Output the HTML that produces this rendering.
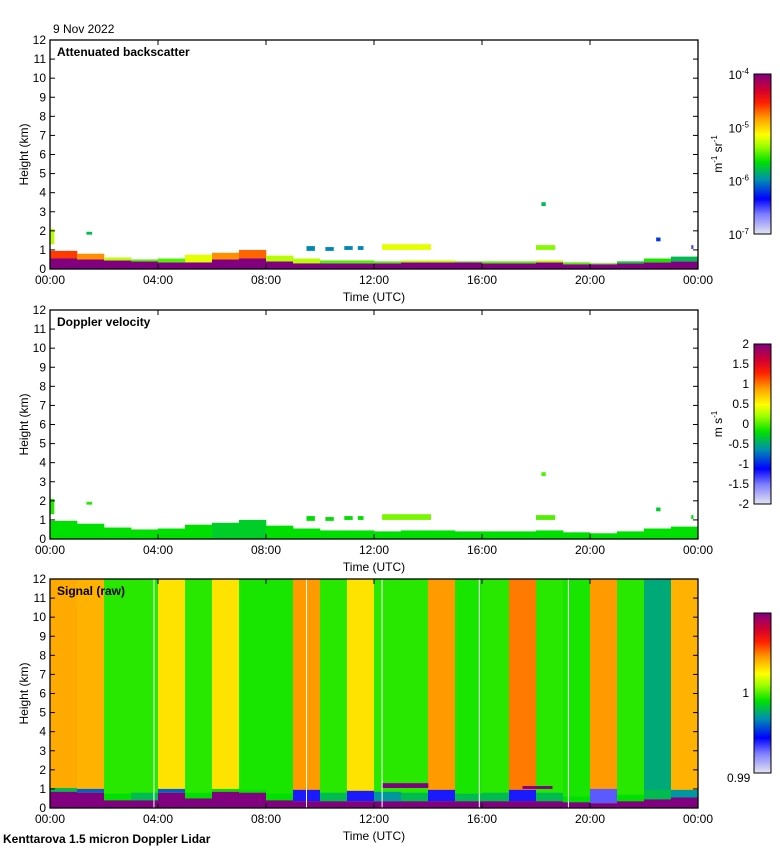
<!DOCTYPE html>
<html><head><meta charset="utf-8">
<style>
html,body{margin:0;padding:0;background:#fff;}
svg{display:block;font-family:"Liberation Sans",sans-serif;}
</style></head>
<body>
<svg id="fig" width="780" height="850" viewBox="0 0 780 850">
<defs>
<linearGradient id="cmapV" x1="0" y1="1" x2="0" y2="0">
<stop offset="0" stop-color="#e4e4f0"/><stop offset="0.12" stop-color="#8080ff"/><stop offset="0.22" stop-color="#0000ff"/><stop offset="0.34" stop-color="#0090b0"/><stop offset="0.45" stop-color="#00e000"/><stop offset="0.55" stop-color="#a0ff00"/><stop offset="0.62" stop-color="#ffff00"/><stop offset="0.72" stop-color="#ffa000"/><stop offset="0.82" stop-color="#ff2000"/><stop offset="0.9" stop-color="#d00030"/><stop offset="1" stop-color="#800080"/>
</linearGradient>
</defs>
<text x="53" y="33" font-size="12">9 Nov 2022</text>
<text x="3" y="843" font-size="12" font-weight="bold">Kenttarova 1.5 micron Doppler Lidar</text>
<g id="layers"></g>
</svg>
<script>
// ---- data ----
const hours = [0,1,2,3,4,5,6,7,8,9,10,11,12,13,14,15,16,17,18,19,20,21,22,23];
const bsPurpleTop = [0.55,0.5,0.45,0.4,0.35,0.35,0.5,0.55,0.4,0.3,0.3,0.3,0.3,0.35,0.35,0.35,0.3,0.3,0.35,0.25,0.25,0.3,0.35,0.4];
const bsLayerTop = [0.95,0.8,0.6,0.5,0.55,0.75,0.85,1.0,0.7,0.55,0.45,0.45,0.4,0.45,0.45,0.4,0.4,0.4,0.45,0.35,0.3,0.4,0.55,0.65];
const bsFringeLog = [-4.6,-4.8,-5.3,-5.5,-5.5,-5.2,-4.8,-4.7,-5.3,-5.3,-5.5,-5.5,-5.5,-5.3,-5.3,-5.5,-5.5,-5.5,-5.3,-5.5,-5.5,-5.7,-5.6,-5.8];
const cloudStart = [0.0,1.35,9.5,10.2,10.9,11.4,12.3,18.0,18.2,22.45,23.75];
const cloudEnd   = [0.15,1.55,9.8,10.5,11.2,11.6,14.1,18.7,18.35,22.6,23.82];
const cloudBase  = [1.3,1.8,0.95,0.95,1.0,1.0,1.0,1.0,3.3,1.45,1.05];
const cloudTop   = [2.1,1.95,1.2,1.15,1.2,1.2,1.3,1.25,3.5,1.65,1.25];
const cloudLog   = [-5.3,-5.8,-6.0,-6.0,-6.0,-6.0,-5.2,-5.4,-5.8,-6.2,-6.5];
const velLayer = [-0.2,-0.2,-0.2,-0.2,-0.2,-0.2,-0.3,-0.3,-0.2,-0.2,-0.2,-0.2,-0.2,-0.2,-0.2,-0.2,-0.2,-0.2,-0.2,-0.2,-0.2,-0.2,-0.2,-0.2];
const cloudVel = [-0.1,-0.1,-0.2,-0.2,-0.2,-0.2,0.1,0.0,0.0,-0.3,-0.2];
const signalHour = [1.0042,1.0040,0.9995,0.9995,1.003,0.9995,1.003,0.9993,0.9993,1.0045,0.9995,1.003,0.9995,0.9995,1.0045,0.9993,0.9995,1.005,0.9995,0.9993,1.0045,0.9995,0.9975,1.004];
const sigPurpleTop = [0.85,0.8,0.4,0.4,0.8,0.5,0.85,0.8,0.4,0.35,0.35,0.35,0.35,0.35,0.35,0.35,0.35,0.35,0.35,0.3,0.25,0.35,0.45,0.55];
const sigLowTop = [1.05,1.0,0.75,0.8,1.0,0.8,1.0,0.95,0.75,0.95,0.8,0.9,0.85,0.8,0.95,0.75,0.8,0.95,0.8,0.6,1.0,0.7,0.95,0.95];
const sigLowVal = [0.998,0.996,0.999,0.998,0.996,0.999,0.999,0.999,0.999,0.994,0.998,0.994,0.997,0.998,0.994,0.998,0.998,0.994,0.998,0.999,0.993,0.999,0.998,0.997];
const sigCloudStart = [12.3,17.5];
const sigCloudEnd = [14.0,18.6];
const sigCloudBase = [1.05,1.0];
const sigCloudTop = [1.3,1.15];
const gapHours = [3.85,9.5,12.3,15.9,19.2];
const yTicks = [0,1,2,3,4,5,6,7,8,9,10,11,12];
const xTickHours = [0,4,8,12,16,20,24];
const xTickLabels = ["00:00","04:00","08:00","12:00","16:00","20:00","00:00"];
const bsCbLabels = ["-4","-5","-6","-7"];
const velCbValues = [2,1.5,1,0.5,0,-0.5,-1,-1.5,-2];
const velCbLabels = ["2","1.5","1","0.5","0","-0.5","-1","-1.5","-2"];
const sigCbValues = [1,0.99];
const sigCbLabels = ["1","0.99"];

// ---- helpers ----
const NS="http://www.w3.org/2000/svg";
const root=document.getElementById('layers');
const X0=50, X1=698, PH=229;
const xs=h=>X0+h*(X1-X0)/24;
function mk(tag,attrs,parent){const e=document.createElementNS(NS,tag);for(const k in attrs)e.setAttribute(k,attrs[k]);(parent||root).appendChild(e);return e;}
const stops=[[0,[228,228,240]],[0.12,[128,128,255]],[0.22,[0,0,255]],[0.34,[0,144,176]],[0.45,[0,224,0]],[0.55,[160,255,0]],[0.62,[255,255,0]],[0.72,[255,160,0]],[0.82,[255,32,0]],[0.9,[208,0,48]],[1,[128,0,128]]];
function cmap(t){t=Math.max(0,Math.min(1,t));for(let i=1;i<stops.length;i++){if(t<=stops[i][0]){const a=stops[i-1],b=stops[i];const f=(t-a[0])/(b[0]-a[0]);const c=a[1].map((v,j)=>Math.round(v+(b[1][j]-v)*f));return `rgb(${c[0]},${c[1]},${c[2]})`;}}return 'rgb(128,0,128)';}
const bsT=l=>(l+7)/3, velT=v=>(v+2)/4, sigT=s=>(s-0.99)/0.02;

function panel(top,title,name){
  const g=mk('g',{});  
  const ys=k=>top+PH-k*PH/12;
  const plot=mk('g',{},g);
  
  
  return {g,ys,plot,top,title};
}
function axes(p,name){
  const {g,ys,top}=p;
  const fr=mk('rect',{x:X0,y:top,width:X1-X0,height:PH,fill:'none',stroke:'#000','stroke-width':1.3},g);
  
  yTicks.forEach(k=>{
    const y=ys(k);
    mk('line',{x1:X0,x2:X0+5,y1:y,y2:y,stroke:'#000'},g);
    mk('line',{x1:X1-5,x2:X1,y1:y,y2:y,stroke:'#000'},g);
    const t=mk('text',{x:X0-4,y:y+4,'font-size':12,'text-anchor':'end'},g);t.textContent=k;
    
  });
  xTickHours.forEach((h,i)=>{
    const x=xs(h);
    mk('line',{x1:x,x2:x,y1:top+PH,y2:top+PH-5,stroke:'#000'},g);
    mk('line',{x1:x,x2:x,y1:top,y2:top+5,stroke:'#000'},g);
    const t=mk('text',{x:x,y:top+PH+15,'font-size':12,'text-anchor':'middle'},g);t.textContent=xTickLabels[i];
    
  });
  const xt=mk('text',{x:374,y:top+PH+32,'font-size':12,'text-anchor':'middle'},g);xt.textContent='Time (UTC)';
  
  const yt=mk('text',{x:0,y:0,'font-size':12,'text-anchor':'middle',transform:`translate(28,${top+PH/2}) rotate(-90)`},g);yt.textContent='Height (km)';
  
  const tt=mk('text',{x:57,y:top+16,'font-size':12,'font-weight':'bold'},g);tt.textContent=p.title;
  
}
function colorbar(top,name){
  const r=mk('rect',{x:754,y:top+34,width:17,height:160,fill:'url(#cmapV)',stroke:'#000','stroke-width':1});
  
  return {y0:top+34,y1:top+194};
}
function cell(parent,h0,h1,k0,k1,ys,color,name){
  const r=mk('rect',{x:xs(h0),y:ys(k1),width:xs(h1)-xs(h0)+0.3,height:ys(k0)-ys(k1),fill:color},parent);
  
}

// ---- panel 1: backscatter ----
const p1=panel(40,'Attenuated backscatter','backscatter-panel');
hours.forEach((h,i)=>{
  cell(p1.plot,h,h+1,0,bsPurpleTop[i],p1.ys,cmap(1),'surface-layer');
  cell(p1.plot,h,h+1,bsPurpleTop[i],bsLayerTop[i],p1.ys,cmap(bsT(bsFringeLog[i])),'boundary-layer-top');
});
cloudStart.forEach((s,i)=>cell(p1.plot,s,cloudEnd[i],cloudBase[i],cloudTop[i],p1.ys,cmap(bsT(cloudLog[i])),'cloud-patch'));
axes(p1,'backscatter');
const cb1=colorbar(40,'backscatter-colorbar');
bsCbLabels.forEach((e,i)=>{
  const y=cb1.y0+i*(cb1.y1-cb1.y0)/3;
  const t=mk('text',{x:749,y:y+5,'font-size':12,'text-anchor':'end'});
  t.innerHTML=`10<tspan dy="-5" font-size="8">${e}</tspan>`;
  
});
const u1=mk('text',{x:0,y:0,'font-size':12,'text-anchor':'middle',transform:'translate(722,154) rotate(-90)'});
u1.innerHTML='m<tspan dy="-5" font-size="8">-1</tspan><tspan dy="5"> sr</tspan><tspan dy="-5" font-size="8">-1</tspan>';


// ---- panel 2: velocity ----
const p2=panel(310,'Doppler velocity','velocity-panel');
hours.forEach((h,i)=>cell(p2.plot,h,h+1,0,bsLayerTop[i],p2.ys,cmap(velT(velLayer[i])),'velocity-layer'));
cloudStart.forEach((s,i)=>cell(p2.plot,s,cloudEnd[i],cloudBase[i],cloudTop[i],p2.ys,cmap(velT(cloudVel[i])),'cloud-velocity'));
axes(p2,'velocity');
const cb2=colorbar(310,'velocity-colorbar');
velCbValues.forEach((v,i)=>{
  const y=cb2.y1-(v+2)/4*(cb2.y1-cb2.y0);
  const t=mk('text',{x:749,y:y+4,'font-size':12,'text-anchor':'end'});t.textContent=velCbLabels[i];
  
});
const u2=mk('text',{x:0,y:0,'font-size':12,'text-anchor':'middle',transform:'translate(722,424) rotate(-90)'});
u2.innerHTML='m s<tspan dy="-5" font-size="8">-1</tspan>';


// ---- panel 3: signal ----
const p3=panel(579,'Signal (raw)','signal-panel');
hours.forEach((h,i)=>{
  cell(p3.plot,h,h+1,0,12,p3.ys,cmap(sigT(signalHour[i])),'signal-band');
  cell(p3.plot,h,h+1,sigPurpleTop[i],sigLowTop[i],p3.ys,cmap(sigT(sigLowVal[i])),'signal-low-layer');
  cell(p3.plot,h,h+1,0,sigPurpleTop[i],p3.ys,cmap(1),'signal-surface');
});
sigCloudStart.forEach((s,i)=>cell(p3.plot,s,sigCloudEnd[i],sigCloudBase[i],sigCloudTop[i],p3.ys,cmap(1),'signal-cloud'));
gapHours.forEach(h=>{
  const l=mk('line',{x1:xs(h),x2:xs(h),y1:p3.top,y2:p3.top+PH,stroke:'#fff','stroke-width':1},p3.plot);
  
});
axes(p3,'signal');
const cb3=colorbar(579,'signal-colorbar');
sigCbValues.forEach((v,i)=>{
  const y=cb3.y1-sigT(v)*(cb3.y1-cb3.y0);
  const t=mk('text',{x:i?727:749,y:i?y+9:y+4,'font-size':12,'text-anchor':i?'start':'end'});t.textContent=sigCbLabels[i];
  
});
</script>
</body></html>
